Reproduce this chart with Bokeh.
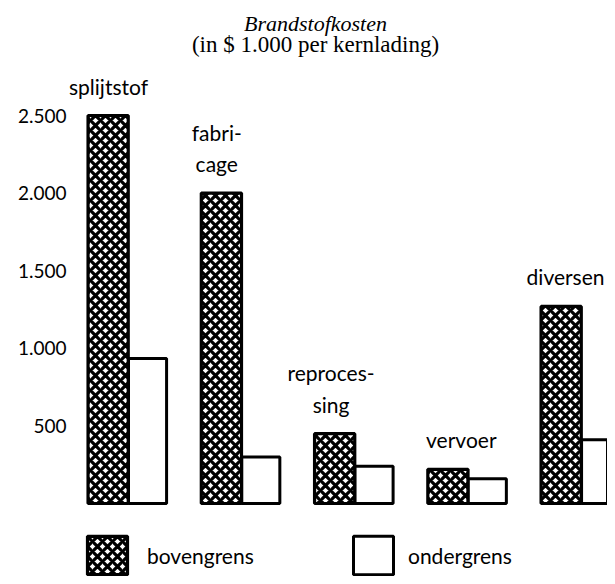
import numpy as np
from bokeh.plotting import figure
from bokeh.models import (ColumnDataSource, Range1d, FixedTicker, Legend,
                          LegendItem, Label)
from bokeh.transform import dodge
from bokeh.core.properties import value
from bokeh.embed import file_html
from bokeh.resources import INLINE

# ---- data -------------------------------------------------------------
categories = ["splijtstof", "fabricage", "reprocessing", "vervoer", "diversen"]
category_labels = ["splijtstof", "fabri-\ncage", "reproces-\nsing", "vervoer", "diversen"]
bovengrens = [2500, 2000, 450, 220, 1270]
ondergrens = [935, 300, 240, 160, 410]
y_ticks = [500, 1000, 1500, 2000, 2500]
y_tick_labels = ["500", "1.000", "1.500", "2.000", "2.500"]
title_text = "Brandstofkosten"
subtitle_text = "(in $ 1.000 per kernlading)"
legend_labels = ["bovengrens", "ondergrens"]

# ---- layout (pixels / offsets, not data) ------------------------------
label_dx = [-20, -25, -24, -7, -16]
W, H = 607, 576
FONT = "Lato"

idx = np.arange(len(categories))
src = ColumnDataSource(dict(x=idx, cat=categories, bovengrens=bovengrens,
                            ondergrens=ondergrens))

p = figure(width=W, height=H, output_backend="svg", toolbar_location=None,
           x_range=Range1d(-0.530, 4.229), y_range=Range1d(-470.4, 3241),
           x_axis_location=None, min_border_left=68, min_border_right=0,
           min_border_top=0, min_border_bottom=0)
p.outline_line_color = None
p.grid.visible = False
p.background_fill_color = "white"
p.border_fill_color = "white"

r_hi = p.vbar(x=dodge("x", -0.18), top="bovengrens", bottom=0, width=0.355,
              source=src, fill_color="white", line_color="black", line_width=3.2,
              hatch_pattern="diagonal_cross", hatch_color="black",
              hatch_weight=3.2, hatch_scale=10)
r_lo = p.vbar(x=dodge("x", 0.168), top="ondergrens", bottom=0, width=0.336,
              source=src, fill_color="white", line_color="black", line_width=3)

lab_src = ColumnDataSource(dict(x=idx, y=bovengrens, text=category_labels,
                                dx=label_dx))
p.text(x="x", y="y", text="text", x_offset="dx", y_offset=-17, source=lab_src,
       text_align="center", text_baseline="bottom", text_font=value(FONT),
       text_font_size="21px", text_color="black", text_line_height=1.25)

yax = p.yaxis[0]
yax.ticker = FixedTicker(ticks=y_ticks)
yax.major_label_overrides = {t: l for t, l in zip(y_ticks, y_tick_labels)}
yax.axis_line_color = None
yax.major_tick_line_color = None
yax.minor_tick_line_color = None
yax.major_tick_out = 0
yax.major_tick_in = 0
yax.major_label_standoff = 2
yax.major_label_text_font = FONT
yax.major_label_text_font_size = "19px"
yax.major_label_text_color = "black"

p.add_layout(Label(x=247, y=H - 23, x_units="screen", y_units="screen",
                   text=title_text, text_align="center", text_baseline="middle",
                   text_font="Liberation Serif", text_font_style="italic",
                   text_font_size="22px", text_color="black"))
p.add_layout(Label(x=247, y=H - 44, x_units="screen", y_units="screen",
                   text=subtitle_text, text_align="center", text_baseline="middle",
                   text_font="Liberation Serif", text_font_size="23px",
                   text_color="black"))

for r, lab, vx, so in [(r_hi, legend_labels[0], 14, 15), (r_lo, legend_labels[1], 280, 10)]:
    leg = Legend(items=[LegendItem(label=lab, renderers=[r])], location=(vx, -3),
                 orientation="horizontal", glyph_width=50, glyph_height=48,
                 label_standoff=so, padding=0, margin=0, spacing=0,
                 border_line_color=None, background_fill_alpha=0,
                 label_text_font=FONT, label_text_font_size="21px",
                 label_text_color="black")
    p.add_layout(leg, "center")

open("out.html", "w").write(file_html(p, INLINE))
